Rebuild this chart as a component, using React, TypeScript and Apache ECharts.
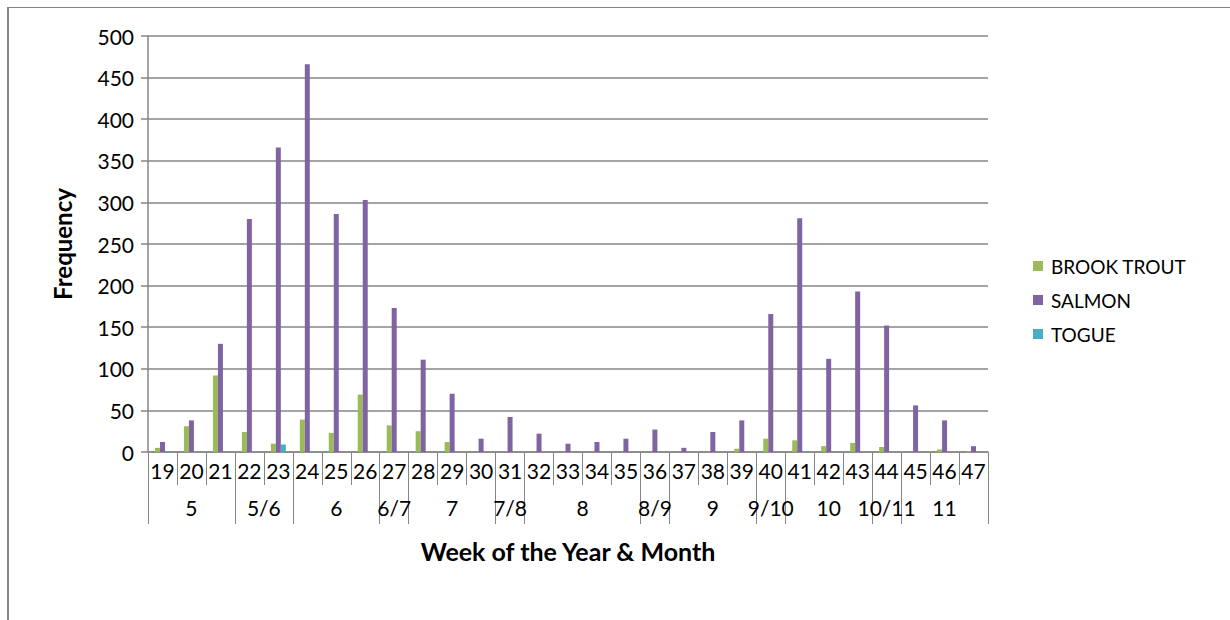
import React, { useEffect, useRef } from "react";
import * as echarts from "echarts";

const weeks = ["19","20","21","22","23","24","25","26","27","28","29","30","31","32","33","34","35","36","37","38","39","40","41","42","43","44","45","46","47"];
const monthLabels = ["5","5/6","6","6/7","7","7/8","8","8/9","9","9/10","10","10/11","11"];
const monthSpans = [3, 2, 3, 1, 3, 1, 4, 1, 3, 1, 3, 1, 3];
const brookTrout = [5, 31, 92, 24, 10, 39, 23, 69, 32, 25, 12, 0, 0, 0, 0, 0, 0, 0, 0, 0, 4, 16, 14, 7, 11, 6, 0, 3, 1];
const salmon = [12, 38, 130, 280, 366, 466, 286, 303, 173, 111, 70, 16, 42, 22, 10, 12, 16, 27, 5, 24, 38, 166, 281, 112, 193, 152, 56, 38, 7];
const togue = [1, 0, 0, 0, 9, 1, 0, 0, 0, 0, 0, 0, 0, 0, 0, 0, 0, 0, 0, 0, 0, 0, 1, 0, 0, 0, 0, 0, 0];

const FONT = "Lato";
const GRAY = "#868686";

export default function App() {
  const ref = useRef<HTMLDivElement>(null);
  useEffect(() => {
    if (!ref.current) return;
    const chart = echarts.init(ref.current, null, { renderer: "svg" });

    // half-week positions for the month level
    const halfCount = weeks.length * 2;
    const monthData: string[] = new Array(halfCount + 1).fill("");
    const boundaries = new Set<number>([0]);
    let pos = 0;
    monthLabels.forEach((lab, i) => {
      const span = monthSpans[i];
      monthData[pos * 2 + span] = lab;
      pos += span;
      boundaries.add(pos * 2);
    });

    chart.setOption({
      animation: false,
      textStyle: { fontFamily: FONT, color: "#000" },
      grid: { left: 148, right: 242, top: 36, bottom: 168, containLabel: false },
      legend: {
        orient: "vertical",
        left: 1028,
        top: 251,
        itemWidth: 10,
        itemHeight: 10,
        itemGap: 14,
        icon: "rect",
        textStyle: { fontFamily: FONT, fontSize: 19, color: "#000", lineHeight: 20, padding: [0, 0, 0, 3] },
        data: ["BROOK TROUT", "SALMON", "TOGUE"],
      },
      xAxis: [
        {
          type: "category",
          data: weeks,
          position: "bottom",
          boundaryGap: true,
          axisLine: { show: true, lineStyle: { color: GRAY, width: 1.5 } },
          axisTick: { show: true, interval: 0, length: 33, lineStyle: { color: GRAY } },
          axisLabel: { interval: 0, fontSize: 21, fontFamily: FONT, color: "#000", margin: 8 },
          splitLine: { show: false },
        },
        {
          type: "category",
          data: monthData,
          position: "bottom",
          offset: 0,
          boundaryGap: false,
          axisLine: { show: false },
          axisTick: {
            show: true,
            length: 72,
            interval: (index: number) => boundaries.has(index),
            lineStyle: { color: GRAY },
          },
          axisLabel: { interval: 0, fontSize: 21, fontFamily: FONT, color: "#000", margin: 45 },
          splitLine: { show: false },
          name: "Week of the Year & Month",
          nameLocation: "middle",
          nameGap: 86,
          nameTextStyle: { fontFamily: FONT, fontSize: 25, fontWeight: "bold", color: "#000" },
        },
      ],
      yAxis: {
        type: "value",
        min: 0,
        max: 500,
        interval: 50,
        name: "Frequency",
        nameLocation: "middle",
        nameRotate: 90,
        nameGap: 74,
        nameTextStyle: { fontFamily: FONT, fontSize: 24, fontWeight: "bold", color: "#000" },
        axisLine: { show: true, lineStyle: { color: GRAY, width: 1.5 } },
        axisTick: { show: true, length: 7, lineStyle: { color: GRAY, width: 1.5 } },
        axisLabel: { fontSize: 21, fontFamily: FONT, color: "#000", margin: 14 },
        splitLine: { show: true, lineStyle: { color: GRAY, width: 1.5 } },
      },
      series: [
        { name: "BROOK TROUT", type: "bar", xAxisIndex: 0, data: brookTrout, barWidth: 5, barGap: "0%", itemStyle: { color: "#9BBB59" } },
        { name: "SALMON", type: "bar", xAxisIndex: 0, data: salmon, barWidth: 5, barGap: "0%", itemStyle: { color: "#8064A2" } },
        { name: "TOGUE", type: "bar", xAxisIndex: 0, data: togue, barWidth: 5, barGap: "0%", itemStyle: { color: "#4BACC6" } },
      ],
      graphic: [
        { type: "line", shape: { x1: 7, y1: 7.5, x2: 1230, y2: 7.5 }, style: { stroke: GRAY, lineWidth: 1 } },
        { type: "line", shape: { x1: 8, y1: 7, x2: 8, y2: 620 }, style: { stroke: GRAY, lineWidth: 2 } },
      ],
    });
    return () => chart.dispose();
  }, []);
  return (
    <div
      ref={ref}
      style={{ position: "fixed", left: 0, top: 0, width: 1230, height: 620, background: "#fff" }}
    />
  );
}
